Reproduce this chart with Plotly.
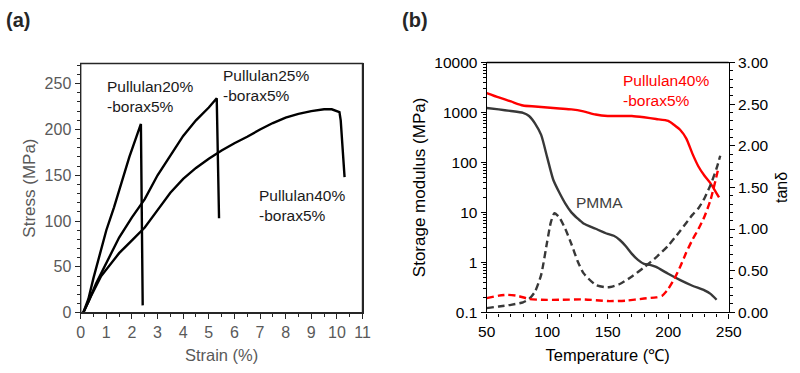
import plotly.graph_objects as go

# ---------- Panel (a): stress-strain ----------
p20_strain = [0.1, 0.3, 0.5, 0.8, 1.0, 1.3, 1.6, 1.9, 2.2, 2.35, 2.42]
p20_stress = [0, 15, 38, 70, 90, 115, 143, 170, 194, 206, 8]

p25_strain = [0.1, 0.3, 0.6, 1.0, 1.5, 2.0, 2.5, 3.0, 3.5, 4.0, 4.5, 5.0, 5.31, 5.4]
p25_stress = [0, 12, 32, 55, 82, 104, 124, 150, 172, 193, 210, 224, 234, 103]

p40_strain = [0.1, 0.4, 0.8, 1.5, 2.0, 2.5, 3.0, 3.5, 4.0, 4.5, 5.0, 5.5, 6.0, 6.5,
              7.0, 7.5, 8.0, 8.5, 9.0, 9.5, 9.8, 10.1, 10.15, 10.3]
p40_stress = [0, 18, 40, 65, 79, 93, 112, 131, 146, 158, 168, 177, 185, 192,
              200, 207, 213, 217, 220, 222, 222, 219, 210, 148]

strain_ticks = list(range(0, 12))
stress_ticks = [0, 50, 100, 150, 200, 250]

# ---------- Panel (b): DMA ----------
pul_T = [50, 60, 70, 80, 90, 100, 110, 120, 130, 140, 150, 160, 170, 180, 190,
         200, 205, 210, 215, 220, 225, 230, 235, 240, 242]
pul_E = [2450, 2000, 1660, 1380, 1320, 1260, 1200, 1150, 1050, 910, 850, 850, 850,
         800, 740, 680, 560, 445, 300, 150, 83, 54, 38, 24, 20]

pmma_T = [50, 60, 70, 80, 85, 90, 95, 100, 105, 110, 115, 120, 125, 130, 140, 150,
          155, 160, 165, 170, 175, 180, 185, 190, 200, 210, 220, 230, 235, 240]
pmma_E = [1230, 1150, 1070, 980, 850, 600, 355, 126, 45, 25, 15, 10, 7.6, 6.0, 4.7,
          3.7, 3.4, 2.8, 2.1, 1.48, 1.12, 0.93, 0.89, 0.81, 0.59, 0.44, 0.34, 0.275,
          0.234, 0.178]

pmma_tan_T = [50, 60, 70, 80, 85, 90, 95, 100, 103, 106, 110, 115, 120, 125, 130,
              140, 150, 160, 170, 180, 190, 200, 210, 220, 225, 230, 235, 240, 243]
pmma_tan = [0.05, 0.07, 0.09, 0.12, 0.16, 0.25, 0.45, 0.85, 1.08, 1.19, 1.14, 1.0,
            0.82, 0.62, 0.47, 0.33, 0.30, 0.34, 0.43, 0.54, 0.66, 0.80, 0.98, 1.17,
            1.25, 1.37, 1.53, 1.73, 1.88]

pul_tan_T = [50, 60, 67, 75, 85, 95, 110, 130, 150, 165, 180, 190, 195, 200, 205,
             210, 215, 220, 225, 230, 235, 241]
pul_tan = [0.17, 0.2, 0.21, 0.2, 0.16, 0.15, 0.15, 0.155, 0.135, 0.14, 0.165, 0.18,
           0.2, 0.28, 0.4, 0.55, 0.72, 0.87, 1.0, 1.15, 1.35, 1.7]

temp_ticks = [50, 100, 150, 200, 250]
mod_tickvals = [0.1, 1, 10, 100, 1000, 10000]
mod_ticktext = ["0.1", "1", "10", "100", "1000", "10000"]
tan_ticks = [0, 0.5, 1.0, 1.5, 2.0, 2.5, 3.0]

FONT = "Arial, Liberation Sans, sans-serif"
GREY = "#595959"
W, H = 800, 373

def px_x(p):
    return p / W

def px_y(p):
    return 1 - p / H

fig = go.Figure()

LW = 2.4
for xs, ys in [(p20_strain, p20_stress), (p25_strain, p25_stress), (p40_strain, p40_stress)]:
    fig.add_trace(go.Scatter(x=xs, y=ys, mode="lines", xaxis="x", yaxis="y",
                             line=dict(color="#000000", width=LW), showlegend=False))

fig.add_trace(go.Scatter(x=pul_T, y=pul_E, mode="lines", xaxis="x2", yaxis="y2",
                         line=dict(color="#ff0000", width=LW, shape="spline", smoothing=0.6),
                         showlegend=False))
fig.add_trace(go.Scatter(x=pmma_T, y=pmma_E, mode="lines", xaxis="x2", yaxis="y2",
                         line=dict(color="#383838", width=LW, shape="spline", smoothing=0.6),
                         showlegend=False))
fig.add_trace(go.Scatter(x=pmma_tan_T, y=pmma_tan, mode="lines", xaxis="x2", yaxis="y3",
                         line=dict(color="#383838", width=LW, dash="7px,4px", shape="spline", smoothing=0.6),
                         showlegend=False))
fig.add_trace(go.Scatter(x=pul_tan_T, y=pul_tan, mode="lines", xaxis="x2", yaxis="y3",
                         line=dict(color="#ff0000", width=LW, dash="7px,4px", shape="spline", smoothing=0.6),
                         showlegend=False))

axis_common = dict(showgrid=False, zeroline=False, showline=True, linewidth=1.4,
                   ticks="outside", ticklen=5, tickwidth=1.2, automargin=False)

ya_top, ya_bot = 63.5, 312.7
yb_top, yb_bot = 62.5, 312.3

fig.update_layout(
    width=W, height=H,
    margin=dict(l=0, r=0, t=0, b=0),
    paper_bgcolor="white", plot_bgcolor="white",
    font=dict(family=FONT, size=16, color="#000000"),
    xaxis=dict(axis_common, domain=[px_x(80.7), px_x(362.5)], anchor="y",
               range=[0, 11], tickvals=strain_ticks, mirror=True,
               linecolor="#262626", tickcolor="#262626",
               tickfont=dict(size=16, color=GREY),
               minor=dict(ticks="outside", ticklen=3, dtick=0.5, tickcolor="#262626"),
               title=dict(text="Strain (%)", font=dict(size=16.5, color=GREY), standoff=9)),
    yaxis=dict(axis_common, domain=[px_y(ya_bot), px_y(ya_top)], anchor="x",
               range=[0, 272], tickvals=stress_ticks, mirror=True,
               linecolor="#262626", tickcolor="#262626",
               tickfont=dict(size=16, color=GREY),
               minor=dict(ticks="outside", ticklen=3, dtick=10, tickcolor="#262626"),
               title=dict(text="Stress (MPa)", font=dict(size=17, color=GREY), standoff=4)),
    xaxis2=dict(axis_common, domain=[px_x(486.7), px_x(728.7)], anchor="y2",
                range=[50, 250], tickvals=temp_ticks, mirror=True,
                linecolor="#000000", tickcolor="#000000",
                tickfont=dict(size=15.5, color="#000000"),
                minor=dict(ticks="outside", ticklen=3, dtick=10, tickcolor="#000000"),
                title=dict(text="Temperature (℃)", font=dict(size=16.5, color="#000000"), standoff=10)),
    yaxis2=dict(axis_common, domain=[px_y(yb_bot), px_y(yb_top)], anchor="x2",
                type="log", range=[-1, 4], tickvals=mod_tickvals, ticktext=mod_ticktext,
                linecolor="#000000", tickcolor="#000000",
                tickfont=dict(size=15.5, color="#000000"),
                minor=dict(ticks="outside", ticklen=3, tickcolor="#000000",
                           tickvals=[m * 10 ** e for e in range(-1, 4) for m in range(2, 10)]),
                title=dict(text="Storage modulus (MPa)", font=dict(size=17, color="#000000"), standoff=4)),
    yaxis3=dict(axis_common, domain=[px_y(yb_bot), px_y(yb_top)], anchor="x2",
                overlaying="y2", side="right", range=[0, 3], tickvals=tan_ticks,
                tickformat=".2f",
                linecolor="#000000", tickcolor="#000000",
                tickfont=dict(size=15.5, color="#000000"),
                minor=dict(ticks="outside", ticklen=3, dtick=0.1, tickcolor="#000000"),
                title=dict(text="tanδ", font=dict(size=16, color="#000000"), standoff=8)),
)

# plot-area frames (top and right edges of panel a, top edge of panel b)
fig.add_shape(type="rect", xref="x domain", yref="y domain", x0=0, x1=1, y0=0, y1=1,
              line=dict(color="#262626", width=1.4), fillcolor="rgba(0,0,0,0)", layer="above")
fig.add_shape(type="line", xref="x2 domain", yref="y2 domain", x0=0, x1=1, y0=1, y1=1,
              line=dict(color="#000000", width=1.4), layer="above")

annots = [
    dict(text="(a)", x=px_x(4), y=px_y(20), xanchor="left", yanchor="middle",
         font=dict(size=20, color="#262626", family=FONT, weight="bold")),
    dict(text="(b)", x=px_x(400), y=px_y(20), xanchor="left", yanchor="middle",
         font=dict(size=20, color="#262626", family=FONT, weight="bold")),
    dict(text="Pullulan20%<br>-borax5%", x=px_x(105), y=px_y(97), xanchor="left", yanchor="middle",
         align="left", font=dict(size=15.5, color="#1a1a1a", family=FONT)),
    dict(text="Pullulan25%<br>-borax5%", x=px_x(221), y=px_y(86), xanchor="left", yanchor="middle",
         align="left", font=dict(size=15.5, color="#1a1a1a", family=FONT)),
    dict(text="Pullulan40%<br>-borax5%", x=px_x(257), y=px_y(205), xanchor="left", yanchor="middle",
         align="left", font=dict(size=15.5, color="#1a1a1a", family=FONT)),
    dict(text="Pullulan40%<br>-borax5%", x=px_x(621), y=px_y(91), xanchor="left", yanchor="middle",
         align="left", font=dict(size=15.5, color="#ff0000", family=FONT)),
    dict(text="PMMA", x=px_x(599), y=px_y(202), xanchor="center", yanchor="middle",
         font=dict(size=15.5, color="#404040", family=FONT)),
]
for a in annots:
    a.update(xref="paper", yref="paper", showarrow=False)
fig.update_layout(annotations=annots)

fig.write_html("out.html", config={"displayModeBar": False},
               post_script="document.body.style.margin='0';")
